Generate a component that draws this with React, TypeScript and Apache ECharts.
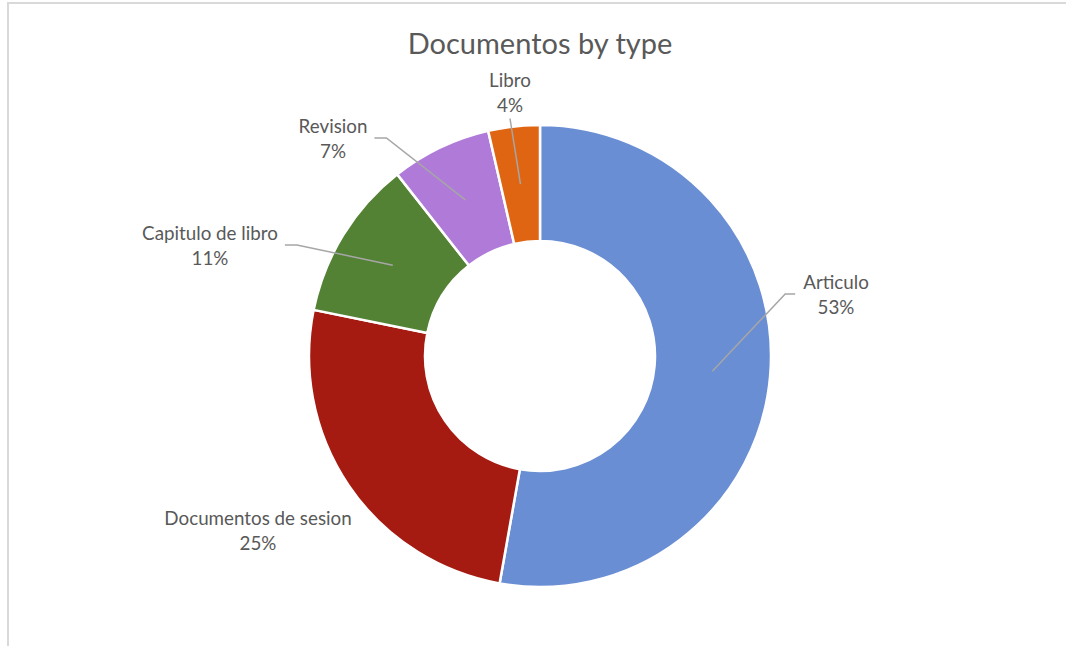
import React, { useEffect, useRef } from "react";
import * as echarts from "echarts";

const categories = ["Articulo", "Documentos de sesion", "Capitulo de libro", "Revision", "Libro"];
const values = [52.8, 25.4, 11.2, 7.0, 3.6];
const colors = ["#6a8ed4", "#a51b11", "#548235", "#b07bd8", "#df6512"];

// label block centres, relative to the pie centre
const labelOffsets: [number, number][] = [
  [296, -62],
  [-282, 174],
  [-330, -111],
  [-207, -218],
  [-30, -264],
];
// which edge of the label the leader line attaches to
const labelLineSide = ["left", "none", "right", "right", "bottom"];

const CX = 540;
const CY = 356;
const R_IN = 115;
const R_OUT = 231;
const FONT = "Lato, 'Noto Sans', sans-serif";

export default function App() {
  const ref = useRef<HTMLDivElement>(null);
  useEffect(() => {
    if (!ref.current) return;
    const chart = echarts.init(ref.current, undefined, { renderer: "svg" });
    const total = values.reduce((a, b) => a + b, 0);
    const midFrac: number[] = [];
    let cum = 0;
    values.forEach((v) => {
      midFrac.push((cum + v / 2) / total);
      cum += v;
    });
    const rMid = (R_IN + R_OUT) / 2;

    const common = {
      type: "pie",
      center: [CX, CY],
      radius: [R_IN, R_OUT],
      startAngle: 90,
      clockwise: true,
      percentPrecision: 0,
      avoidLabelOverlap: false,
      emphasis: { disabled: true },
    };

    chart.setOption({
      animation: false,
      title: {
        text: "Documentos by type",
        left: CX - 5,
        textAlign: "center",
        top: 23,
        textStyle: { fontFamily: FONT, fontSize: 29, fontWeight: "normal", color: "#595959" },
      },
      graphic: [
        {
          type: "rect",
          shape: { x: 8, y: 3, width: 1100, height: 700 },
          style: { fill: "none", stroke: "#d9d9d9", lineWidth: 2 },
          silent: true,
        },
      ],
      series: [
        {
          ...common,
          z: 2,
          itemStyle: { borderColor: "#ffffff", borderWidth: 2.5 },
          label: { show: false },
          labelLine: { show: false },
          data: categories.map((name, i) => ({
            name,
            value: values[i],
            itemStyle: { color: colors[i] },
          })),
        },
        {
          ...common,
          z: 3,
          silent: true,
          itemStyle: { color: "rgba(0,0,0,0)", borderWidth: 0 },
          label: {
            show: true,
            position: "outside",
            formatter: "{b}\n{d}%",
            fontFamily: FONT,
            fontSize: 18.8,
            lineHeight: 24.5,
            color: "#595959",
            align: "center",
          },
          labelLine: {
            show: true,
            showAbove: true,
            lineStyle: { color: "#a6a6a6", width: 1.5 },
          },
          labelLayout: (params: any) => {
            const i = params.dataIndex;
            const off = labelOffsets[i];
            const lx = CX + off[0];
            const ly = CY + off[1];
            const w = params.labelRect.width;
            const h = params.labelRect.height;
            const th = midFrac[i] * Math.PI * 2;
            const start = [CX + rMid * Math.sin(th), CY - rMid * Math.cos(th)];
            const side = labelLineSide[i];
            let end: number[];
            let elbow: number[];
            if (side === "left") {
              end = [lx - w / 2 - 8, ly];
              elbow = [end[0] - 10, ly];
            } else if (side === "right") {
              end = [lx + w / 2 + 7, ly];
              elbow = [end[0] + 12, ly];
            } else {
              end = [lx, ly + h / 2 + 2];
              elbow = end;
            }
            return {
              x: lx,
              y: ly,
              align: "center",
              verticalAlign: "middle",
              labelLinePoints: side === "none" ? [start, start, start] : [start, elbow, end],
            };
          },
          data: categories.map((name, i) => {
            const item: any = { name, value: values[i] };
            if (labelLineSide[i] === "none") item.labelLine = { show: false };
            return item;
          }),
        },
      ],
    });
    return () => chart.dispose();
  }, []);
  return (
    <div
      ref={ref}
      style={{ position: "absolute", left: 0, top: 0, width: 1066, height: 646, background: "#ffffff" }}
    />
  );
}
